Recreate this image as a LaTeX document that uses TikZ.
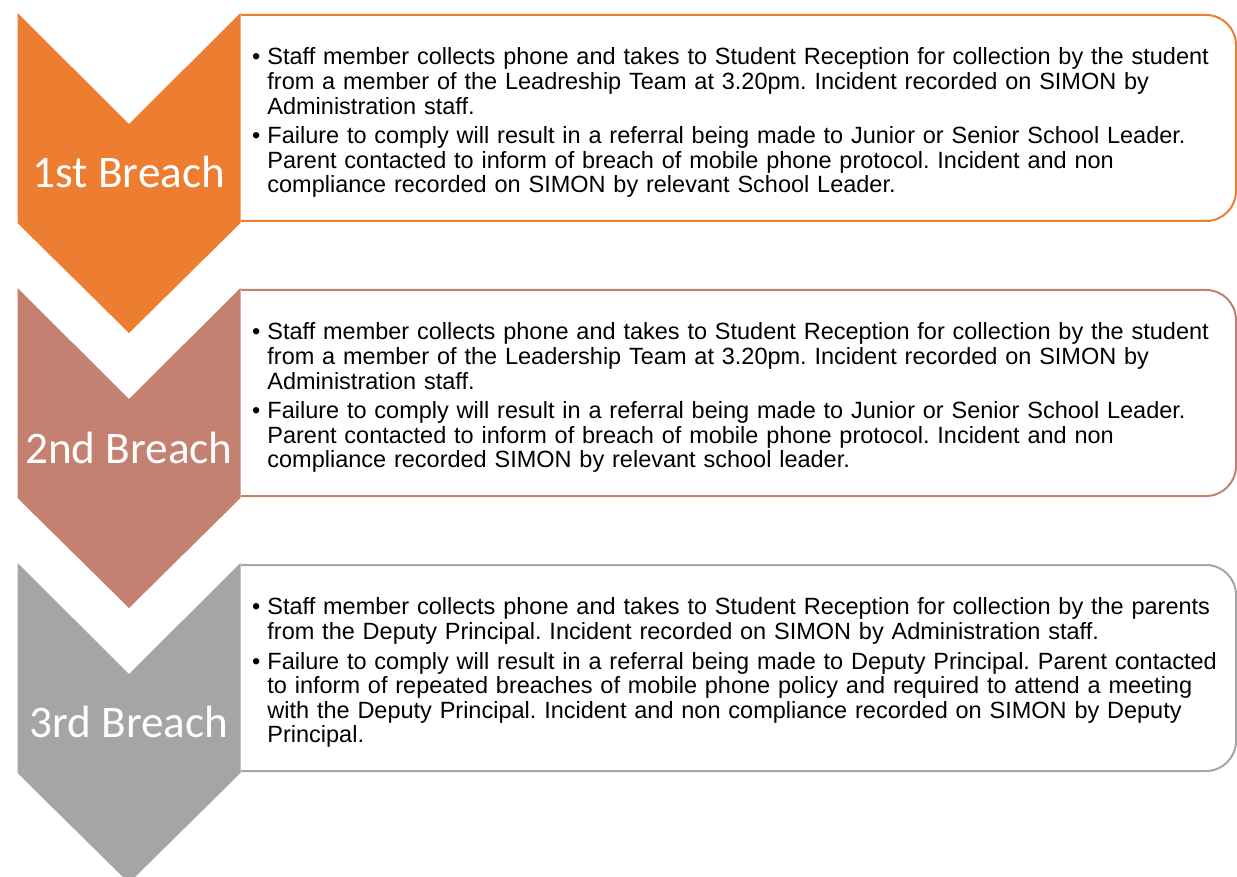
\documentclass[tikz,border=0pt]{standalone}
\usepackage{fontspec}
\setmainfont{Liberation Sans}
\newfontfamily\breachfont{Carlito}
\usepackage{enumitem}
\usetikzlibrary{positioning}

\definecolor{breachorange}{HTML}{ED7D31}
\definecolor{breachbrown}{HTML}{C48070}
\definecolor{breachgrey}{HTML}{A5A5A5}

\setlist[itemize]{label=\textbullet, leftmargin=8.5pt, labelsep=3.5pt, itemsep=2.5pt, topsep=0pt, parsep=0pt, partopsep=0pt}
\frenchspacing

\begin{document}
\begin{tikzpicture}[x=0.5pt, y=-0.5pt,
    breachlabel/.style={text=white, font=\breachfont\fontsize{22.6}{24}\selectfont, inner sep=0pt},
    rulebox/.style={line width=1pt, rounded corners=15pt},
    ruletext/.style={anchor=west, text width=490pt, inner sep=0pt, font=\fontsize{11.75}{12.3}\selectfont}]
    \useasboundingbox (0,0) rectangle (1237,877);

    % Chevrons
    \fill[breachgrey] (17.5,563) -- ++(111.5,111) -- ++(111.5,-111) -- ++(0,210) -- ++(-111.5,110) -- ++(-111.5,-110) -- cycle;
    \fill[breachbrown] (17.5,288) -- ++(111.5,111) -- ++(111.5,-111) -- ++(0,210) -- ++(-111.5,110) -- ++(-111.5,-110) -- cycle;
    \fill[breachorange] (17.5,13) -- ++(111.5,111) -- ++(111.5,-111) -- ++(0,210) -- ++(-111.5,110) -- ++(-111.5,-110) -- cycle;

    % Boxes
    \draw[rulebox, breachorange] (241,15) -- ++(995,0) -- ++(0,206) -- ++(-995,0);
    \draw[rulebox, breachbrown] (241,290) -- ++(995,0) -- ++(0,206) -- ++(-995,0);
    \draw[rulebox, breachgrey] (241,565) -- ++(995,0) -- ++(0,206) -- ++(-995,0);

    % Labels
    \node[breachlabel] (first) at (129,172) {1st Breach};
    \node[breachlabel] (second) at (129,448) {2nd Breach};
    \node[breachlabel] (third) at (129,722) {3rd Breach};

    % 1st breach text
    \node[ruletext] (firsttext) at (250,119) {%
        \begin{itemize}
        \item Staff member collects phone and takes to Student Reception for collection by the student\\
        from a member of the Leadreship Team at 3.20pm. Incident recorded on SIMON by\\
        Administration staff.
        \item Failure to comply will result in a referral being made to Junior or Senior School Leader.\\
        Parent contacted to inform of breach of mobile phone protocol. Incident and non\\
        compliance recorded on SIMON by relevant School Leader.
        \end{itemize}};

    % 2nd breach text
    \node[ruletext] (secondtext) at (250,394) {%
        \begin{itemize}
        \item Staff member collects phone and takes to Student Reception for collection by the student\\
        from a member of the Leadership Team at 3.20pm. Incident recorded on SIMON by\\
        Administration staff.
        \item Failure to comply will result in a referral being made to Junior or Senior School Leader.\\
        Parent contacted to inform of breach of mobile phone protocol. Incident and non\\
        compliance recorded SIMON by relevant school leader.
        \end{itemize}};

    % 3rd breach text
    \node[ruletext] (thirdtext) at (250,669) {%
        \begin{itemize}
        \item Staff member collects phone and takes to Student Reception for collection by the parents\\
        from the Deputy Principal. Incident recorded on SIMON by Administration staff.
        \item Failure to comply will result in a referral being made to Deputy Principal. Parent contacted\\
        to inform of repeated breaches of mobile phone policy and required to attend a meeting\\
        with the Deputy Principal. Incident and non compliance recorded on SIMON by Deputy\\
        Principal.
        \end{itemize}};

\end{tikzpicture}
\end{document}
